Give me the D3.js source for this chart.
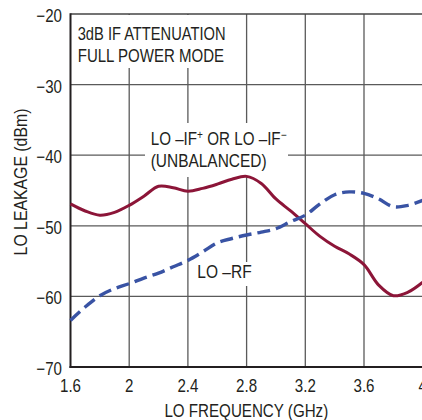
<!DOCTYPE html>
<html>
<head>
<meta charset="utf-8">
<script src="https://cdn.jsdelivr.net/npm/d3@7"></script>
<style>
  html, body { margin: 0; padding: 0; background: #fff; }
  svg { display: block; }
  text { font-family: "Liberation Sans", Arial, sans-serif; fill: #231f20; }
</style>
</head>
<body>
<svg id="chart" width="422" height="420"></svg>
<script>
// LO frequency (GHz) sample points
const freqGHz = [1.6, 1.7, 1.8, 1.9, 2.0, 2.1, 2.2, 2.3, 2.4, 2.5, 2.6, 2.7, 2.8,
                 2.9, 3.0, 3.1, 3.2, 3.3, 3.4, 3.5, 3.6, 3.7, 3.8, 3.9, 4.0];
// LO –IF+ / LO –IF− leakage (dBm), unbalanced
const loIfLeak = [-46.9, -47.9, -48.5, -48.1, -47.1, -45.8, -44.4, -44.6, -45.1, -44.7,
                  -44.1, -43.4, -43.0, -44.0, -46.2, -47.9, -49.7, -51.5, -52.9, -54.0,
                  -55.5, -58.4, -59.9, -59.4, -58.0];
// LO –RF leakage (dBm)
const loRfLeak = [-63.4, -61.5, -59.9, -58.9, -58.2, -57.4, -56.7, -55.8, -54.9, -53.7,
                  -52.4, -51.8, -51.3, -50.9, -50.4, -49.4, -48.5, -46.9, -45.6, -45.2,
                  -45.4, -46.2, -47.3, -47.1, -46.4];
// Axis ticks
const xTicks = [1.6, 2.0, 2.4, 2.8, 3.2, 3.6, 4.0];
const xTickLabels = ["1.6", "2", "2.4", "2.8", "3.2", "3.6", "4"];
const yTicks = [-70, -60, -50, -40, -30, -20];
const yTickLabels = ["\u221270", "\u221260", "\u221250", "\u221240", "\u221230", "\u221220"];

const svg = d3.select("#chart");
const plotL = 70.5, plotR = 422.7, plotT = 14, plotB = 367;
const FS = 18;          // base font size
const NARROW = 0.84;    // horizontal squeeze for a condensed look

const x = d3.scaleLinear().domain([1.6, 4.0]).range([plotL, plotR]);
const y = d3.scaleLinear().domain([-70, -20]).range([plotB, plotT]);

// grid
const grid = svg.append("g").attr("stroke", "#5a5a5a").attr("stroke-width", 1.3);
grid.selectAll("line.v").data(xTicks.slice(1)).enter().append("line")
  .attr("x1", d => x(d)).attr("x2", d => x(d)).attr("y1", plotT).attr("y2", plotB);
grid.selectAll("line.h").data(yTicks.slice(1, -1)).enter().append("line")
  .attr("x1", plotL).attr("x2", plotR).attr("y1", d => y(d)).attr("y2", d => y(d));

// frame
svg.append("line").attr("x1", plotL).attr("x2", plotR).attr("y1", y(-20)).attr("y2", y(-20))
  .attr("stroke", "#444").attr("stroke-width", 1.6);
svg.append("line").attr("x1", plotL).attr("x2", plotL).attr("y1", plotT - 0.8).attr("y2", plotB + 1)
  .attr("stroke", "#231f20").attr("stroke-width", 2);
svg.append("line").attr("x1", plotL - 1).attr("x2", plotR).attr("y1", plotB).attr("y2", plotB)
  .attr("stroke", "#231f20").attr("stroke-width", 2);

// white backing behind annotation text
const boxes = [
  [plotL + 1.5, plotT + 1, 232, 68],
  [145, 123, 288, 177],
  [193, 262, 257, 286]
];
svg.selectAll("rect.bg").data(boxes).enter().append("rect")
  .attr("x", d => d[0]).attr("y", d => d[1])
  .attr("width", d => d[2] - d[0]).attr("height", d => d[3] - d[1])
  .attr("fill", "#fff");

// curves
const line = (vals) => d3.line()
  .x((d, i) => x(freqGHz[i]))
  .y(d => y(d))
  .curve(d3.curveCatmullRom.alpha(0.5))(vals);

svg.append("path").attr("d", line(loIfLeak))
  .attr("fill", "none").attr("stroke", "#8c1538").attr("stroke-width", 3)
  .attr("stroke-linejoin", "round");
svg.append("path").attr("d", line(loRfLeak))
  .attr("fill", "none").attr("stroke", "#3953a4").attr("stroke-width", 3.4)
  .attr("stroke-dasharray", "13,6");

// text helper: anchored at (tx, ty), squeezed horizontally; if width is given,
// the squeeze is chosen so the label spans that many pixels
function label(tx, ty, str, opts = {}) {
  const g = svg.append("g");
  const t = g.append("text").attr("font-size", opts.size || FS)
    .attr("text-anchor", opts.anchor || "start");
  if (typeof str === "string") t.text(str); else str(t);
  let sx = NARROW;
  if (opts.width) sx = opts.width / t.node().getComputedTextLength();
  g.attr("transform", `translate(${tx},${ty}) rotate(${opts.rotate || 0}) scale(${sx},1)`);
  return g;
}

// tick labels
xTicks.forEach((d, i) => label(x(d), 391.5, xTickLabels[i], { anchor: "middle" }));
yTicks.forEach((d, i) => label(62, y(d) + 8, yTickLabels[i], { anchor: "end" }));

// axis titles
label(246.3, 416.5, "LO FREQUENCY (GHz)", { anchor: "middle", width: 164 });
label(27, 182, "LO LEAKAGE (dBm)", { anchor: "middle", rotate: -90, width: 147 });

// annotations
label(77.7, 40, "3dB IF ATTENUATION", { width: 148 });
label(77.7, 62, "FULL POWER MODE", { width: 146.5 });
label(150.7, 145, t => {
  t.append("tspan").text("LO \u2013IF");
  t.append("tspan").attr("dy", -6).attr("font-size", 12).text("+");
  t.append("tspan").attr("dy", 6).text(" OR LO \u2013IF");
  t.append("tspan").attr("dy", -6).attr("font-size", 12).text("\u2212");
}, { width: 136 });
label(150.7, 166.5, "(UNBALANCED)", { width: 116 });
label(197.3, 277.5, "LO \u2013RF", { width: 54.4 });
</script>
</body>
</html>
